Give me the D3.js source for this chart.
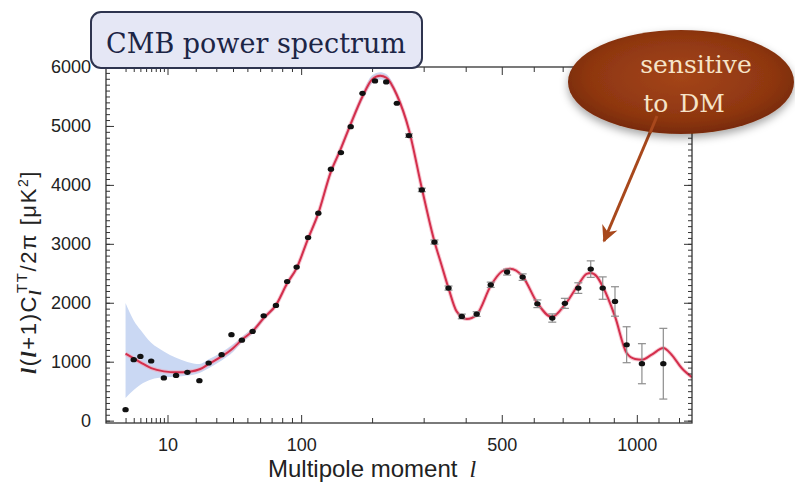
<!DOCTYPE html>
<html>
<head>
<meta charset="utf-8">
<script src="https://d3js.org/d3.v7.min.js"></script>
<style>
  body { margin: 0; background: #fff; }
  svg text { font-family: "Liberation Sans", Arial, sans-serif; fill: #222; }
</style>
</head>
<body>
<script>

// binned spectrum points: multipole, D_l [uK^2], error
var dataEll = [2, 3, 4, 6, 9, 12.6, 16.6, 21.6, 26, 33, 39, 46, 54, 63, 74, 85, 95, 108, 120.5, 137, 151, 165.5, 184, 205, 225, 245, 269, 296, 324, 357, 390, 429, 468, 516, 564, 612, 663, 708, 758, 806, 854, 905, 955, 1023, 1123];
var dataVal = [186, 1034, 1090, 1012, 724, 768, 819, 678, 978, 1119, 1458, 1365, 1514, 1780, 1954, 2361, 2605, 3107, 3520, 4266, 4548, 4988, 5554, 5763, 5746, 5385, 4836, 3915, 3030, 2249, 1768, 1808, 2305, 2520, 2435, 1983, 1741, 1990, 2249, 2571, 2249, 2022, 1288, 966, 966];
var dataErr = [0, 0, 0, 0, 0, 0, 0, 0, 0, 0, 0, 0, 0, 0, 0, 0, 0, 0, 0, 0, 0, 0, 0, 0, 0, 0, 30, 30, 35, 35, 40, 40, 45, 50, 55, 65, 70, 85, 90, 140, 190, 250, 305, 340, 600];

// best-fit model curve
var fitEll = [2, 3, 4, 6, 9, 13, 17, 22, 26, 33, 40, 46, 55, 63, 74, 85, 95, 108, 120, 137, 150, 165, 184, 200, 214, 225, 245, 269, 296, 324, 340, 357, 377, 403, 429, 468, 500, 525, 564, 612, 661, 708, 758, 790, 806, 830, 854, 905, 955, 992, 1023, 1068, 1123, 1163, 1213, 1266];
var fitVal = [1136, 1056, 990, 890, 836, 819, 830, 876, 961, 1090, 1230, 1373, 1540, 1740, 1960, 2330, 2588, 3090, 3500, 4225, 4590, 5020, 5500, 5790, 5850, 5820, 5525, 4932, 3944, 3039, 2650, 2249, 1853, 1724, 1797, 2288, 2530, 2576, 2446, 1995, 1758, 1966, 2305, 2490, 2503, 2446, 2276, 1768, 1147, 1046, 1034, 1119, 1232, 1119, 893, 735];

// cosmic variance band
var bandEll = [2, 3, 4, 6, 9, 12.6, 16.6, 21.6, 26, 33, 40, 46, 55, 63, 74, 85, 95, 108, 120, 137, 150, 165, 184, 200, 214, 225, 245, 269, 296, 324];
var bandLo = [385, 520, 610, 700, 735, 745, 765, 810, 890, 1020, 1165, 1320, 1490, 1700, 1925, 2290, 2550, 3050, 3455, 4175, 4540, 4965, 5440, 5720, 5790, 5760, 5470, 4890, 3910, 3010];
var bandHi = [1995, 1700, 1540, 1320, 1175, 1065, 995, 960, 1040, 1160, 1295, 1425, 1590, 1780, 1995, 2370, 2625, 3130, 3545, 4275, 4640, 5075, 5560, 5860, 5910, 5880, 5580, 4975, 3980, 3070];

var xMajor = [10, 100, 500, 1000];
var xMinor = [2, 3, 4, 5, 6, 7, 8, 9, 20, 30, 40, 50, 60, 70, 80, 90, 200, 300, 400, 600, 700, 800, 900, 1100, 1200];
var yMajor = [0, 1000, 2000, 3000, 4000, 5000, 6000];
var yMinor = d3.range(0, 6001, 100);

var W = 795, H = 485;
var plot = {left: 106, right: 692, top: 67, bottom: 423};

var svg = d3.select("body").append("svg")
    .attr("width", W)
    .attr("height", H);

var defs = svg.append("defs");

defs.append("clipPath").attr("id", "plot-clip")
  .append("rect")
    .attr("x", plot.left).attr("y", plot.top)
    .attr("width", plot.right - plot.left)
    .attr("height", plot.bottom - plot.top);

var x = d3.scalePow().exponent(0.4)
    .domain([0.51, 1266])
    .range([plot.left, plot.right]);

var y = d3.scaleLinear()
    .domain([-40, 6000])
    .range([plot.bottom, plot.top]);

// band
var band = d3.area()
    .x(function(d) { return x(d[0]); })
    .y0(function(d) { return y(d[1]); })
    .y1(function(d) { return y(d[2]); })
    .curve(d3.curveMonotoneX);

svg.append("path")
    .datum(bandEll.map(function(l, i) { return [l, bandLo[i], bandHi[i]]; }))
    .attr("clip-path", "url(#plot-clip)")
    .attr("d", band)
    .style("fill", "#cad8f3");

// model curve
var line = d3.line()
    .x(function(d) { return x(d[0]); })
    .y(function(d) { return y(d[1]); })
    .curve(d3.curveMonotoneX);

var fit = fitEll.map(function(l, i) { return [l, fitVal[i]]; });

svg.append("path")
    .datum(fit)
    .attr("clip-path", "url(#plot-clip)")
    .attr("d", line)
    .style("fill", "none")
    .style("stroke", "#f2a4b4")
    .style("stroke-width", 4)
    .style("opacity", 0.6);

svg.append("path")
    .datum(fit)
    .attr("clip-path", "url(#plot-clip)")
    .attr("d", line)
    .style("fill", "none")
    .style("stroke", "#d42f4c")
    .style("stroke-width", 2);

// frame + ticks
function tickAxis(axis, values, size, transform) {
  var g = svg.append("g")
      .attr("transform", transform)
      .call(axis.tickValues(values).tickSize(size).tickFormat(""));
  g.select(".domain").remove();
  g.selectAll("line").style("stroke", "#333").style("stroke-width", 1);
  return g;
}

tickAxis(d3.axisBottom(x), xMinor, -5, "translate(0," + plot.bottom + ")");
tickAxis(d3.axisBottom(x), xMajor, -8, "translate(0," + plot.bottom + ")");
tickAxis(d3.axisTop(x), xMinor, -5, "translate(0," + plot.top + ")");
tickAxis(d3.axisTop(x), xMajor, -8, "translate(0," + plot.top + ")");
tickAxis(d3.axisLeft(y), yMinor, -4, "translate(" + plot.left + ",0)");
tickAxis(d3.axisLeft(y), yMajor, -8, "translate(" + plot.left + ",0)");
tickAxis(d3.axisRight(y), yMinor, -4, "translate(" + plot.right + ",0)");
tickAxis(d3.axisRight(y), yMajor, -8, "translate(" + plot.right + ",0)");

svg.append("rect")
    .attr("x", plot.left).attr("y", plot.top)
    .attr("width", plot.right - plot.left)
    .attr("height", plot.bottom - plot.top)
    .style("fill", "none")
    .style("stroke", "#333")
    .style("stroke-width", 1.3);

// tick labels
var gxl = svg.append("g")
    .attr("transform", "translate(0," + plot.bottom + ")")
    .call(d3.axisBottom(x).tickValues(xMajor).tickSize(0).tickPadding(15).tickFormat(d3.format("d")));
gxl.select(".domain").remove();
gxl.selectAll("text").style("font-size", "18px").style("font-family", "Liberation Sans, Arial, sans-serif").style("fill", "#222");

var gyl = svg.append("g")
    .attr("transform", "translate(" + plot.left + ",0)")
    .call(d3.axisLeft(y).tickValues(yMajor).tickSize(0).tickPadding(15).tickFormat(d3.format("d")));
gyl.select(".domain").remove();
gyl.selectAll("text").style("font-size", "18px").style("font-family", "Liberation Sans, Arial, sans-serif").style("fill", "#222");

// error bars + points
var pts = dataEll.map(function(l, i) { return {l: l, v: dataVal[i], e: dataErr[i]}; });

var eb = svg.selectAll(".err")
    .data(pts.filter(function(d) { return d.e > 0; }))
  .enter().append("g")
    .attr("class", "err")
    .style("stroke", "#8d8d8d")
    .style("stroke-width", 1.2);

eb.append("line")
    .attr("x1", function(d) { return x(d.l); })
    .attr("x2", function(d) { return x(d.l); })
    .attr("y1", function(d) { return y(d.v - d.e); })
    .attr("y2", function(d) { return y(d.v + d.e); });
eb.append("line")
    .attr("x1", function(d) { return x(d.l) - 4; })
    .attr("x2", function(d) { return x(d.l) + 4; })
    .attr("y1", function(d) { return y(d.v - d.e); })
    .attr("y2", function(d) { return y(d.v - d.e); });
eb.append("line")
    .attr("x1", function(d) { return x(d.l) - 4; })
    .attr("x2", function(d) { return x(d.l) + 4; })
    .attr("y1", function(d) { return y(d.v + d.e); })
    .attr("y2", function(d) { return y(d.v + d.e); });

svg.selectAll(".pt")
    .data(pts)
  .enter().append("ellipse")
    .attr("class", "pt")
    .attr("cx", function(d) { return x(d.l); })
    .attr("cy", function(d) { return y(d.v); })
    .attr("rx", 3.2)
    .attr("ry", 2.6)
    .style("fill", "#111");

// axis titles
svg.append("text")
    .attr("x", 268)
    .attr("y", 477)
    .style("font-size", "24px")
    .text("Multipole moment")
  .append("tspan")
    .attr("dx", 12)
    .style("font-family", "Liberation Serif, serif")
    .style("font-style", "italic")
    .text("l");

var yt = svg.append("text")
    .attr("transform", "translate(36,272) rotate(-90)")
    .attr("text-anchor", "middle")
    .style("font-size", "22px")
    .style("letter-spacing", "1.6px");
yt.append("tspan").style("font-family", "Liberation Serif, serif").style("font-style", "italic").style("font-weight", "bold").text("l");
yt.append("tspan").text("(");
yt.append("tspan").style("font-family", "Liberation Serif, serif").style("font-style", "italic").style("font-weight", "bold").text("l");
yt.append("tspan").text("+1)C");
yt.append("tspan").attr("dy", 5).style("font-size", "16px").style("font-family", "Liberation Serif, serif").style("font-style", "italic").style("font-weight", "bold").text("l");
yt.append("tspan").attr("dx", -4).attr("dy", -14).style("font-size", "15px").text("TT");
yt.append("tspan").attr("dy", 9).text("/2\u03C0 [\u03BCK");
yt.append("tspan").attr("dy", -8).style("font-size", "14px").text("2");
yt.append("tspan").attr("dy", 8).text("]");

// title box
svg.append("rect")
    .attr("x", 91).attr("y", 12)
    .attr("width", 331).attr("height", 56)
    .attr("rx", 10)
    .style("fill", "#e5e7f5")
    .style("stroke", "#2e344f")
    .style("stroke-width", 2);

svg.append("text")
    .attr("x", 256)
    .attr("y", 53)
    .attr("text-anchor", "middle")
    .style("font-family", "DejaVu Serif, serif")
    .style("font-size", "27px")
    .style("fill", "#1c2546")
    .text("CMB power spectrum");

// callout bubble
var grad = defs.append("radialGradient")
    .attr("id", "bubble-grad")
    .attr("cx", "50%").attr("cy", "45%").attr("r", "55%");
grad.selectAll("stop")
    .data([{o: "0%", c: "#a4451a"}, {o: "75%", c: "#8e3610"}, {o: "100%", c: "#772a08"}])
  .enter().append("stop")
    .attr("offset", function(d) { return d.o; })
    .attr("stop-color", function(d) { return d.c; });

var shadow = defs.append("filter").attr("id", "shadow")
    .attr("x", "-20%").attr("y", "-20%").attr("width", "140%").attr("height", "150%");
shadow.append("feDropShadow")
    .attr("dx", 0).attr("dy", 4).attr("stdDeviation", 4)
    .attr("flood-color", "#000").attr("flood-opacity", 0.35);

var marker = defs.append("marker")
    .attr("id", "arrow")
    .attr("viewBox", "0 -6 12 12")
    .attr("refX", 10).attr("refY", 0)
    .attr("markerWidth", 6).attr("markerHeight", 6)
    .attr("orient", "auto");
marker.append("path")
    .attr("d", "M0,-5.5L11,0L0,5.5L3.5,0Z")
    .style("fill", "#a8481c");

svg.append("line")
    .attr("x1", 657).attr("y1", 116)
    .attr("x2", 604).attr("y2", 241)
    .style("stroke", "#a8481c")
    .style("stroke-width", 3)
    .attr("marker-end", "url(#arrow)");

svg.append("ellipse")
    .attr("cx", 681).attr("cy", 82)
    .attr("rx", 113).attr("ry", 52)
    .style("fill", "url(#bubble-grad)")
    .attr("filter", "url(#shadow)");

svg.append("text")
    .attr("x", 696).attr("y", 73)
    .attr("text-anchor", "middle")
    .style("font-family", "DejaVu Serif, serif")
    .style("font-size", "25px")
    .style("fill", "#f6e4c8")
    .text("sensitive");

svg.append("text")
    .attr("x", 684).attr("y", 112)
    .attr("text-anchor", "middle")
    .style("font-family", "DejaVu Serif, serif")
    .style("font-size", "25px")
    .style("word-spacing", "3px")
    .style("fill", "#f6e4c8")
    .text("to DM");

// arrow part that shows over the bubble edge
svg.append("line")
    .attr("x1", 657).attr("y1", 116)
    .attr("x2", 650).attr("y2", 133)
    .style("stroke", "#a8481c")
    .style("stroke-width", 3);

</script>
</body>
</html>
